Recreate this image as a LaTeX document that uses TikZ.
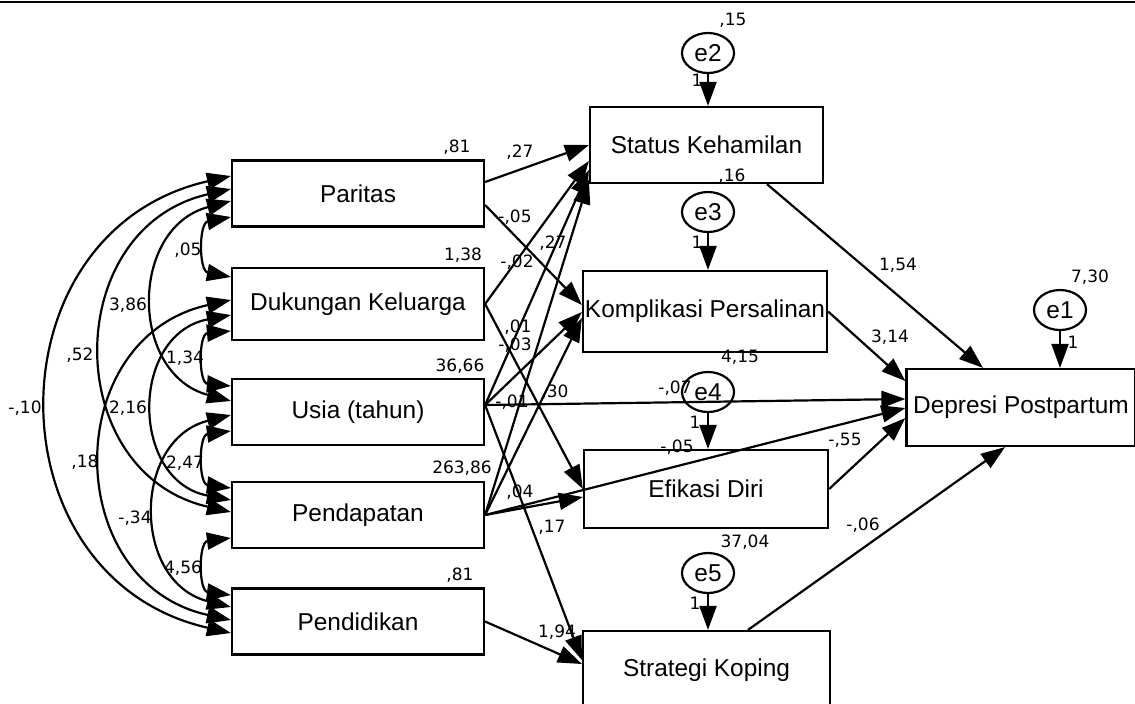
\documentclass[tikz,border=0pt]{standalone}
\usepackage{fontspec}
\setmainfont{Liberation Sans}
\newfontfamily\estfamily{DejaVu Sans}
\usepackage{tikz}
\usetikzlibrary{shapes.geometric,arrows.meta}

\newcommand{\varfont}{\fontsize{12.2pt}{14pt}\selectfont}
\newcommand{\estfont}{\estfamily\fontsize{8.5pt}{10pt}\selectfont}

\begin{document}
\begin{tikzpicture}[
      x=0.5pt, y=-0.5pt,
      var/.style={draw, line width=1.1pt, inner sep=0pt, font=\varfont,
        minimum width=126pt, minimum height=33pt},
      err/.style={draw, ellipse, line width=1.1pt, inner sep=0pt, font=\varfont,
        minimum width=26pt, minimum height=20pt},
      reg/.style={-{Triangle[length=12pt,width=8.5pt]}, line width=1.1pt},
      cov/.style={{Triangle[length=12pt,width=8.5pt]}-{Triangle[length=12pt,width=8.5pt]}, line width=1.1pt},
      est/.style={font=\estfont, inner sep=0pt}
    ]
    \useasboundingbox (0,0) rectangle (1135,703);
    \draw[line width=1.1pt] (0,2) -- (1135,2);

    % exogenous variables
    \node[var] (par) at (358,193.5) {Paritas};
    \node[var, minimum height=36pt] (duk) at (358,304) {Dukungan Keluarga};
    \node[var] (usia) at (358,412) {Usia (tahun)};
    \node[var] (pdp) at (358,515) {Pendapatan};
    \node[var] (pdd) at (358,621.5) {Pendidikan};

    % endogenous variables
    \node[var, minimum width=116.5pt, minimum height=38pt] (stk) at (706.5,145) {Status Kehamilan};
    \node[var, minimum width=122pt, minimum height=40.5pt] (kom) at (705,311.5) {Komplikasi Persalinan};
    \node[var, minimum width=122pt, minimum height=39pt] (efi) at (706,489) {Efikasi Diri};
    \node[var, minimum width=123.5pt, minimum height=39pt] (skp) at (706.5,670) {Strategi Koping};
    \node[var, minimum width=114.5pt, minimum height=38.5pt] (dep) at (1021,407.5) {Depresi Postpartum};

    % errors
    \node[err] (e2) at (708,53) {e2};
    \node[err] (e3) at (708,212) {e3};
    \node[err] (e4) at (708,392) {e4};
    \node[err] (e5) at (708,573) {e5};
    \node[err] (e1) at (1060,310) {e1};

    \draw[reg] (e2.south) -- (e2.south |- stk.north);
    \draw[reg] (e3.south) -- (e3.south |- kom.north);
    \draw[reg] (e4.south) -- (e4.south |- efi.north);
    \draw[reg] (e5.south) -- (e5.south |- skp.north);
    \draw[reg] (e1.south) -- (e1.south |- dep.north);

    % regression paths
    \draw[reg] (par.east |- 0,182) -- (stk.west);
    \draw[reg] (par.east |- 0,205) -- (kom.west |- 0,305);
    \draw[reg] (duk.east) -- (stk.west |- 0,161);
    \draw[reg] (duk.east) -- (efi.west);
    \draw[reg] (usia.east |- 0,405) -- (stk.west |- 0,170);
    \draw[reg] (usia.east |- 0,405) -- (kom.west |- 0,312);
    \draw[reg] (usia.east |- 0,405) -- (dep.west |- 0,399);
    \draw[reg] (usia.east |- 0,405) -- (skp.west |- 0,660);
    \draw[reg] (pdp.east) -- (stk.west |- 0,180);
    \draw[reg] (pdp.east) -- (kom.west |- 0,318);
    \draw[reg] (pdp.east) -- (efi.west |- 0,497);
    \draw[reg] (pdp.east) -- (dep.west |- 0,408);
    \draw[reg] (pdd.east) -- (skp.west |- 0,664);
    \draw[reg] (767,0 |- stk.south) -- (983,0 |- dep.north);
    \draw[reg] (kom.east) -- (dep.west |- 0,381);
    \draw[reg] (efi.east) -- (dep.west |- 0,418);
    \draw[reg] (748,0 |- skp.north) -- (1005,0 |- dep.south);

    % covariances
    \draw[cov] (par.west |- 0,217) .. controls (198.7,223.1) and (198.7,270.9) .. (duk.west |- 0,277);
    \draw[cov] (duk.west |- 0,331) .. controls (198.4,333.9) and (198.4,383.1) .. (usia.west |- 0,386);
    \draw[cov] (usia.west |- 0,431) .. controls (198.4,435.1) and (198.4,483.9) .. (pdp.west |- 0,488);
    \draw[cov] (pdp.west |- 0,538) .. controls (198.4,542.1) and (198.4,590.9) .. (pdd.west |- 0,595);
    \draw[cov] (par.west |- 0,201) .. controls (129.1,228) and (129.1,374) .. (usia.west |- 0,401);
    \draw[cov] (duk.west |- 0,315) .. controls (129.7,334.1) and (129.7,480.9) .. (pdp.west |- 0,500);
    \draw[cov] (usia.west |- 0,415) .. controls (131.7,439.8) and (131.7,582.2) .. (pdd.west |- 0,607);
    \draw[cov] (par.west |- 0,189) .. controls (60.2,228) and (60.2,473) .. (pdp.west |- 0,512);
    \draw[cov] (duk.west |- 0,300) .. controls (60.2,337.5) and (60.2,582.5) .. (pdd.west |- 0,620);
    \draw[cov] (par.west |- 0,176) .. controls (-11.7,230.9) and (-11.7,578.1) .. (pdd.west |- 0,633);

    % covariance estimates
    \node[est] (c05) at (188,250) {,05};
    \node[est] (c386) at (128,305) {3,86};
    \node[est] (c52) at (80,355) {,52};
    \node[est] (c10) at (25,408) {-,10};
    \node[est] (c134) at (185,358) {1,34};
    \node[est] (c216) at (128,408) {2,16};
    \node[est] (c18) at (85,462) {,18};
    \node[est] (c247) at (185,463) {2,47};
    \node[est] (c34) at (135,518) {-,34};
    \node[est] (c456) at (183,568) {4,56};

    % variances
    \node[est] (vpar) at (457,147) {,81};
    \node[est] (vduk) at (463,255) {1,38};
    \node[est] (vusia) at (460,366) {36,66};
    \node[est] (vpdp) at (462,468) {263,86};
    \node[est] (vpdd) at (460,575) {,81};
    \node[est] (ve2) at (733,20) {,15};
    \node[est] (ve3) at (732,176) {,16};
    \node[est] (ve4) at (740,357) {4,15};
    \node[est] (ve5) at (745,542) {37,04};
    \node[est] (ve1) at (1090,277) {7,30};

    % fixed loadings
    \node[est] (w2) at (697,80) {1};
    \node[est] (w3) at (697,242) {1};
    \node[est] (w4) at (695,422) {1};
    \node[est] (w5) at (695,603) {1};
    \node[est] (w1) at (1073,342) {1};

    % path estimates
    \node[est] (b1) at (520,152) {,27};
    \node[est] (b2) at (515,217) {-,05};
    \node[est] (b3) at (517,262) {-,02};
    \node[est] (b4) at (553,243) {,27};
    \node[est] (b5) at (518,327) {,01};
    \node[est] (b6) at (515,345) {-,03};
    \node[est] (b7) at (555,392) {,30};
    \node[est] (b8) at (512,402) {-,01};
    \node[est] (b9) at (520,492) {,04};
    \node[est] (b10) at (552,527) {,17};
    \node[est] (b11) at (557,632) {1,94};
    \node[est] (b12) at (898,265) {1,54};
    \node[est] (b13) at (890,337) {3,14};
    \node[est] (b14) at (675,388) {-,07};
    \node[est] (b15) at (677,447) {-,05};
    \node[est] (b16) at (845,440) {-,55};
    \node[est] (b17) at (863,525) {-,06};
\end{tikzpicture}
\end{document}
